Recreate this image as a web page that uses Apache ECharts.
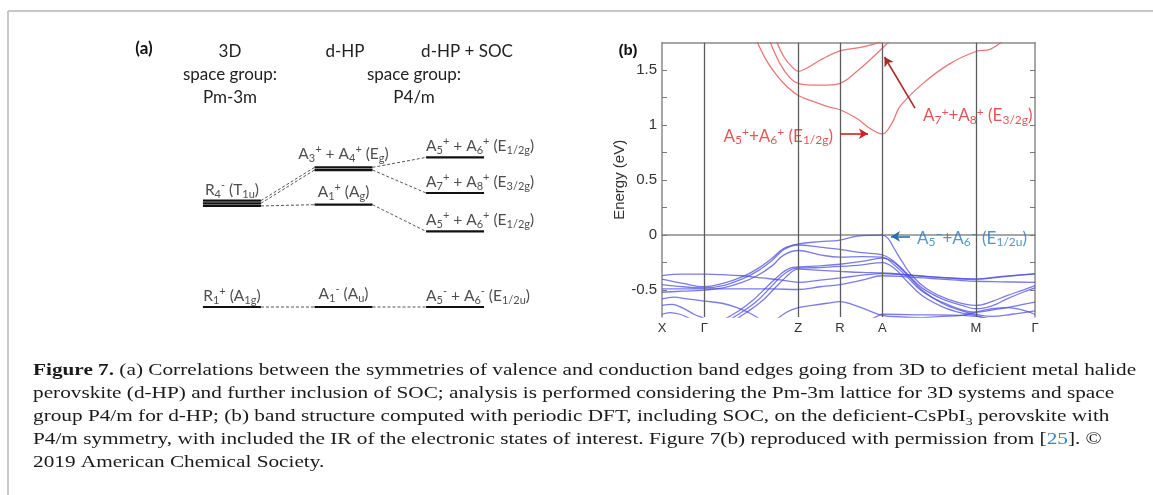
<!DOCTYPE html>
<html><head><meta charset="utf-8">
<script src="https://cdn.jsdelivr.net/npm/echarts/dist/echarts.min.js"></script>
<style>html,body{margin:0;padding:0;background:#fff}#c{width:1153px;height:495px}</style>
</head><body><div id="c"></div>
<script>
// ================= Panel (b): band structure =================
const kLabels = ['X', 'Γ', 'Z', 'R', 'A', 'M', 'Γ'];
const kTicks = [0, 42.3, 136.3, 178, 220.3, 314, 373];
const energyLabels = [-0.5, 0, 0.5, 1, 1.5];
const energyTicks = [-0.5, -0.25, 0, 0.25, 0.5, 0.75, 1, 1.25, 1.5];

const cb1 = [[95,1.76],[105,1.58],[115,1.45],[125,1.35],[136.3,1.27],[150,1.22],[165,1.17],[178,1.14],[195,1.06],[208,0.97],[220.3,0.92],[230,1.02],[238,1.17],[261,1.38],[288,1.56],[314,1.67],[328,1.69],[340,1.76]];
const cb2 = [[108,1.76],[118,1.56],[128,1.43],[136.3,1.38],[150,1.365],[165,1.365],[178,1.38],[195,1.49],[210,1.61],[220.3,1.70],[227,1.76]];
const cb3 = [[114.7,1.76],[122,1.62],[130,1.53],[136.3,1.49],[145,1.52],[160,1.60],[178,1.675],[200,1.71],[220.3,1.76]];
const conductionBands = [cb1, cb2, cb3];

const vb1 = [[0,-0.40],[21,-0.44],[42.3,-0.47],[61,-0.44],[80,-0.38],[95,-0.31],[110,-0.21],[122,-0.12],[136.3,-0.08],[158,-0.06],[178,-0.045],[195,-0.01],[220.3,0.0],[226,-0.03],[232,-0.12],[240,-0.24],[250,-0.37],[265,-0.49],[285,-0.58],[314,-0.64],[331,-0.60],[345,-0.55],[361,-0.50],[373,-0.46]];
const vb2 = [[0,-0.45],[21,-0.47],[42.3,-0.48],[61,-0.46],[80,-0.40],[95,-0.33],[110,-0.23],[122,-0.13],[136.3,-0.09],[158,-0.11],[178,-0.13],[200,-0.16],[220.3,-0.18],[232,-0.24],[245,-0.35],[260,-0.48],[280,-0.58],[300,-0.64],[314,-0.67],[331,-0.64],[345,-0.58],[361,-0.52],[373,-0.48]];
const vb3 = [[0,-0.52],[21,-0.51],[42.3,-0.50],[61,-0.48],[80,-0.43],[95,-0.37],[110,-0.28],[122,-0.18],[136.3,-0.14],[158,-0.18],[178,-0.20],[200,-0.195],[220.3,-0.20],[232,-0.27],[245,-0.38],[260,-0.51],[280,-0.61],[300,-0.68],[314,-0.70],[331,-0.68],[345,-0.66],[361,-0.63],[373,-0.61]];
const vb4 = [[55,-0.80],[75,-0.70],[90,-0.60],[105,-0.47],[118,-0.36],[128,-0.30],[136.3,-0.29],[158,-0.28],[178,-0.265],[200,-0.24],[220.3,-0.21],[232,-0.25],[245,-0.36],[260,-0.50],[280,-0.62],[300,-0.69],[314,-0.72],[330,-0.74],[350,-0.72],[373,-0.69]];
const vb5 = [[62,-0.80],[80,-0.70],[95,-0.60],[108,-0.48],[120,-0.37],[130,-0.31],[136.3,-0.30],[158,-0.295],[178,-0.285],[200,-0.27],[220.3,-0.25],[232,-0.30],[245,-0.42],[260,-0.55],[280,-0.65],[300,-0.71],[314,-0.73],[330,-0.78]];
const vb6 = [[68,-0.80],[85,-0.70],[100,-0.60],[112,-0.49],[124,-0.38],[132,-0.32],[136.3,-0.31],[158,-0.32],[178,-0.33],[200,-0.34],[220.3,-0.345],[245,-0.36],[270,-0.38],[295,-0.395],[314,-0.40],[340,-0.38],[373,-0.35]];
const vb7 = [[0,-0.368],[21,-0.355],[42.3,-0.355],[61,-0.36],[80,-0.37],[100,-0.39],[120,-0.41],[136.3,-0.43],[158,-0.41],[178,-0.39],[200,-0.365],[220.3,-0.35],[245,-0.365],[270,-0.38],[295,-0.395],[314,-0.40],[340,-0.375],[373,-0.355]];
const vb8 = [[0,-0.49],[21,-0.49],[42.3,-0.49],[80,-0.49],[110,-0.49],[136.3,-0.495],[158,-0.47],[178,-0.45],[200,-0.41],[220.3,-0.37],[245,-0.38],[270,-0.395],[295,-0.41],[314,-0.42],[340,-0.425],[373,-0.43]];
const vb9 = [[0,-0.58],[12,-0.565],[25,-0.58],[42.3,-0.60],[60,-0.62],[75,-0.66],[90,-0.72],[100,-0.78]];
const vb10 = [[0,-0.64],[10,-0.63],[20,-0.66],[32,-0.72],[42.3,-0.76],[50,-0.80]];
const vb11 = [[0,-0.72],[8,-0.705],[18,-0.72],[28,-0.76]];
const vb12 = [[110,-0.80],[125,-0.70],[136.3,-0.66],[150,-0.64],[165,-0.62],[178,-0.605],[190,-0.63],[205,-0.68],[220.3,-0.73],[240,-0.745],[260,-0.75],[280,-0.74],[300,-0.73],[314,-0.70],[330,-0.67],[345,-0.66],[360,-0.68],[373,-0.72]];
const vb13 = [[200,-0.80],[215,-0.74],[220.3,-0.72],[260,-0.725],[300,-0.73],[314,-0.74],[340,-0.78]];
const valenceBands = [vb1, vb2, vb3, vb4, vb5, vb6, vb7, vb8, vb9, vb10, vb11, vb12, vb13];

const annoTexts = [
  '{n|A}{b|5}{p|+}{n|+A}{b|6}{p|+}{n| (E}{b|1/2g}{n|)}',
  '{n|A}{b|7}{p|+}{n|+A}{b|8}{p|+}{n| (E}{b|3/2g}{n|)}',
  '{n|A}{b|5}{p|−}{n|+A}{b|6}{p|−}{n| (E}{b|1/2u}{n|)}'
];
const annoTextPos = [[171, 0.898], [261, 1.085], [255, -0.03]];
const annoAlign = ['right', 'left', 'left'];
const annoColors = ['#e02a2a', '#e02a2a', '#2a7ab8'];
const arrowFrom = [[178, 0.922], [253, 1.155], [248, -0.012]];
const arrowTo = [[206, 0.922], [222.5, 1.62], [229, -0.012]];
const arrowColors = ['#cc2222', '#a82a2a', '#2a6fb0'];

// ================= Panel (a): correlation diagram =================
const columnCenters = [0, 1, 2];
const levelColumn = [0, 0, 1, 1, 1, 2, 2, 2, 2];
const levelEnergy = [1.037, 0, 1.383, 1.023, 0, 1.496, 1.14, 0.756, 0];
const levelDegeneracy = [3, 1, 2, 1, 1, 1, 1, 1, 1];
const levelLabels = [
  '{n|R}{b|4}{p|-}{n| (T}{b|1u}{n|)}',
  '{n|R}{b|1}{p|+}{n| (A}{b|1g}{n|)}',
  '{n|A}{b|3}{p|+}{n| + A}{b|4}{p|+}{n| (E}{b|g}{n|)}',
  '{n|A}{b|1}{p|+}{n| (A}{b|g}{n|)}',
  '{n|A}{b|1}{p|-}{n| (A}{b|u}{n|)}',
  '{n|A}{b|5}{p|+}{n| + A}{b|6}{p|+}{n| (E}{b|1/2g}{n|)}',
  '{n|A}{b|7}{p|+}{n| + A}{b|8}{p|+}{n| (E}{b|3/2g}{n|)}',
  '{n|A}{b|5}{p|+}{n| + A}{b|6}{p|+}{n| (E}{b|1/2g}{n|)}',
  '{n|A}{b|5}{p|-}{n| + A}{b|6}{p|-}{n| (E}{b|1/2u}{n|)}'
];
const correlations = [[0,0,2,0],[0,1,2,1],[0,2,3,0],[2,0,5,0],[2,1,6,0],[3,0,7,0],[1,0,4,0],[4,0,8,0]];
const headerLeft = '3D\nspace group:\nPm-3m';
const headerMid = 'd-HP';
const headerRight = 'd-HP + SOC';
const headerShared = 'space group:\nP4/m';

// ================= Caption =================
const captionText =
  '{fb|Figure 7.}{r| (a) Correlations between the symmetries of valence and conduction band edges going from 3D to deficient metal halide}\n' +
  '{r|perovskite (d-HP) and further inclusion of SOC; analysis is performed considering the Pm-3m lattice for 3D systems and space}\n' +
  '{r|group P4/m for d-HP; (b) band structure computed with periodic DFT, including SOC, on the deficient-CsPbI}{s|3}{r| perovskite with}\n' +
  '{r|P4/m symmetry, with included the IR of the electronic states of interest. Figure 7(b) reproduced with permission from [}{l|25}{r|]. ©}\n' +
  '{r|2019 American Chemical Society.}';

// ----------------------------------------------------------
const HALF = 0.26, GAP = 0.0265;
const SANS = 'Lato';
function subE(li, s) { const n = levelDegeneracy[li]; return levelEnergy[li] + ((n - 1) / 2 - s) * GAP; }
function richA(color, size) {
  return {
    n: {fontFamily: SANS, fontSize: size, color: color, lineHeight: 20},
    b: {fontFamily: SANS, fontSize: Math.round(size * 0.72), color: color, lineHeight: 12, verticalAlign: 'bottom'},
    p: {fontFamily: SANS, fontSize: Math.round(size * 0.72), color: color, lineHeight: 12, verticalAlign: 'top'}
  };
}

const series = [];
levelEnergy.forEach((e, li) => {
  const c = columnCenters[levelColumn[li]];
  for (let s = 0; s < levelDegeneracy[li]; s++) {
    const y = subE(li, s);
    series.push({type: 'line', xAxisIndex: 0, yAxisIndex: 0, data: [[c - HALF, y], [c + HALF, y]],
      symbol: 'none', lineStyle: {color: '#111', width: 2.2}, silent: true, animation: false});
  }
});
correlations.forEach(([a, sa, b, sb]) => {
  const ca = columnCenters[levelColumn[a]], cbb = columnCenters[levelColumn[b]];
  series.push({type: 'line', xAxisIndex: 0, yAxisIndex: 0,
    data: [[ca + HALF, subE(a, sa)], [cbb - HALF, subE(b, sb)]],
    symbol: 'none', lineStyle: {color: '#555', width: 1, type: [3, 2]}, silent: true, animation: false});
});
series.push({type: 'scatter', xAxisIndex: 0, yAxisIndex: 0, symbolSize: 0, silent: true, animation: false,
  data: levelEnergy.map((e, li) => {
    const col = levelColumn[li];
    const c = columnCenters[col];
    const top = subE(li, 0);
    const left = col === 2;
    return {value: [left ? c - HALF : c, top],
      label: {show: true, position: 'top', distance: col === 1 ? 3 : 1, align: left ? 'left' : 'center',
        formatter: levelLabels[li], rich: richA('#222', 15.5)}};
  })});

conductionBands.forEach(b => series.push({type: 'line', xAxisIndex: 1, yAxisIndex: 1, data: b, smooth: 0.4,
  symbol: 'none', lineStyle: {color: 'rgba(232,95,95,0.85)', width: 1.3}, silent: true, animation: false}));
valenceBands.forEach((b, i) => series.push({type: 'line', xAxisIndex: 1, yAxisIndex: 1, data: b, smooth: 0.4,
  symbol: 'none', lineStyle: {color: 'rgba(70,70,225,0.72)', width: 1.3}, silent: true, animation: false,
  markLine: i === 0 ? {silent: true, symbol: 'none', label: {show: false}, animation: false,
    lineStyle: {color: '#5c5c5c', width: 1.3, type: 'solid'},
    data: kTicks.slice(1, -1).map(k => ({xAxis: k}))} : undefined}));
arrowFrom.forEach((f, i) => series.push({type: 'line', xAxisIndex: 1, yAxisIndex: 1, data: [], silent: true, animation: false,
  markLine: {silent: true, animation: false, symbol: ['none', 'arrow'], symbolSize: [8, 9], label: {show: false},
    lineStyle: {color: arrowColors[i], width: 1.6, type: 'solid'},
    data: [[{coord: f}, {coord: arrowTo[i]}]]}}));
series.push({type: 'scatter', xAxisIndex: 1, yAxisIndex: 1, symbolSize: 0, silent: true, animation: false,
  data: annoTextPos.map((p, i) => ({value: p, label: {show: true, position: 'inside', align: annoAlign[i],
    verticalAlign: 'middle', formatter: annoTexts[i], rich: richA(annoColors[i], 17)}}))});

const frameColor = '#8a8a8a';
const headStyle = {fontFamily: SANS, fontSize: 17, lineHeight: 23, fill: '#222', align: 'center', verticalAlign: 'top'};
const option = {
  animation: false,
  grid: [
    {left: 165, top: 27, width: 357, height: 300},
    {left: 662, top: 42.7, width: 373, height: 274.3}
  ],
  xAxis: [
    {gridIndex: 0, type: 'value', min: -0.6, max: 2.6, show: false},
    {gridIndex: 1, type: 'value', min: 0, max: 373, position: 'bottom',
      axisLine: {show: true, lineStyle: {color: frameColor, width: 1.5}},
      axisTick: {show: false}, splitLine: {show: false},
      axisLabel: {customValues: kTicks, margin: 5, color: '#333', fontSize: 13, fontFamily: 'Liberation Sans',
        formatter: v => kLabels[kTicks.indexOf(v)]}},
    {gridIndex: 1, type: 'value', min: 0, max: 373, position: 'top',
      axisLine: {show: true, onZero: false, lineStyle: {color: frameColor, width: 1.5}},
      axisTick: {show: false}, axisLabel: {show: false}, splitLine: {show: false}}
  ],
  yAxis: [
    {gridIndex: 0, type: 'value', min: -0.2, max: 2.8, show: false},
    {gridIndex: 1, type: 'value', min: -0.745, max: 1.75, position: 'left',
      name: 'Energy (eV)', nameLocation: 'middle', nameGap: 31, nameRotate: 90,
      nameTextStyle: {fontFamily: 'Liberation Sans', fontSize: 15, color: '#333'},
      axisLine: {show: true, onZero: false, lineStyle: {color: frameColor, width: 1.5}},
      axisTick: {show: true, inside: true, length: 5, customValues: energyTicks, lineStyle: {color: '#777'}},
      splitLine: {show: false},
      axisLabel: {customValues: energyLabels, margin: 5, color: '#333', fontSize: 15, fontFamily: 'Liberation Sans',
        formatter: v => String(v)}},
    {gridIndex: 1, type: 'value', min: -0.745, max: 1.75, position: 'right',
      axisLine: {show: true, onZero: false, lineStyle: {color: frameColor, width: 1.5}},
      axisTick: {show: true, inside: true, length: 5, customValues: energyTicks, lineStyle: {color: '#777'}},
      axisLabel: {show: false}, splitLine: {show: false}}
  ],
  series: series,
  graphic: [
    {type: 'line', shape: {x1: 8, y1: 11, x2: 1153, y2: 11}, style: {stroke: '#c8c8c8', lineWidth: 2}, silent: true},
    {type: 'line', shape: {x1: 8, y1: 11, x2: 8, y2: 495}, style: {stroke: '#c8c8c8', lineWidth: 2}, silent: true},
    {type: 'text', x: 144, y: 49, silent: true, style: {text: '(a)', fontFamily: SANS, fontWeight: 'bold', fontSize: 17, fill: '#111', align: 'center', verticalAlign: 'middle'}},
    {type: 'text', x: 628, y: 51, silent: true, style: {text: '(b)', fontFamily: 'Liberation Sans', fontWeight: 'bold', fontSize: 15, fill: '#111', align: 'center', verticalAlign: 'middle'}},
    {type: 'text', x: 230, y: 40, silent: true, style: Object.assign({text: headerLeft}, headStyle)},
    {type: 'text', x: 345, y: 40, silent: true, style: Object.assign({text: headerMid}, headStyle)},
    {type: 'text', x: 467, y: 40, silent: true, style: Object.assign({text: headerRight}, headStyle)},
    {type: 'text', x: 414, y: 63, silent: true, style: Object.assign({text: headerShared}, headStyle)},
    {type: 'text', x: 33, y: 359, scaleX: 1.25, silent: true, style: {text: captionText, x: 0, y: 0, align: 'left', verticalAlign: 'top',
      rich: {
        fb: {fontFamily: 'Liberation Serif', fontSize: 17, fontWeight: 'bold', lineHeight: 23, fill: '#1a1a1a'},
        r: {fontFamily: 'Liberation Serif', fontSize: 17, lineHeight: 23, fill: '#1a1a1a'},
        s: {fontFamily: 'Liberation Serif', fontSize: 11, lineHeight: 19, fill: '#1a1a1a', verticalAlign: 'bottom'},
        l: {fontFamily: 'Liberation Serif', fontSize: 17, lineHeight: 23, fill: '#2e86c1'}
      }}}
  ]
};
const chart = echarts.init(document.getElementById('c'), null, {renderer: 'canvas'});
chart.setOption(option);
</script>
</body></html>
